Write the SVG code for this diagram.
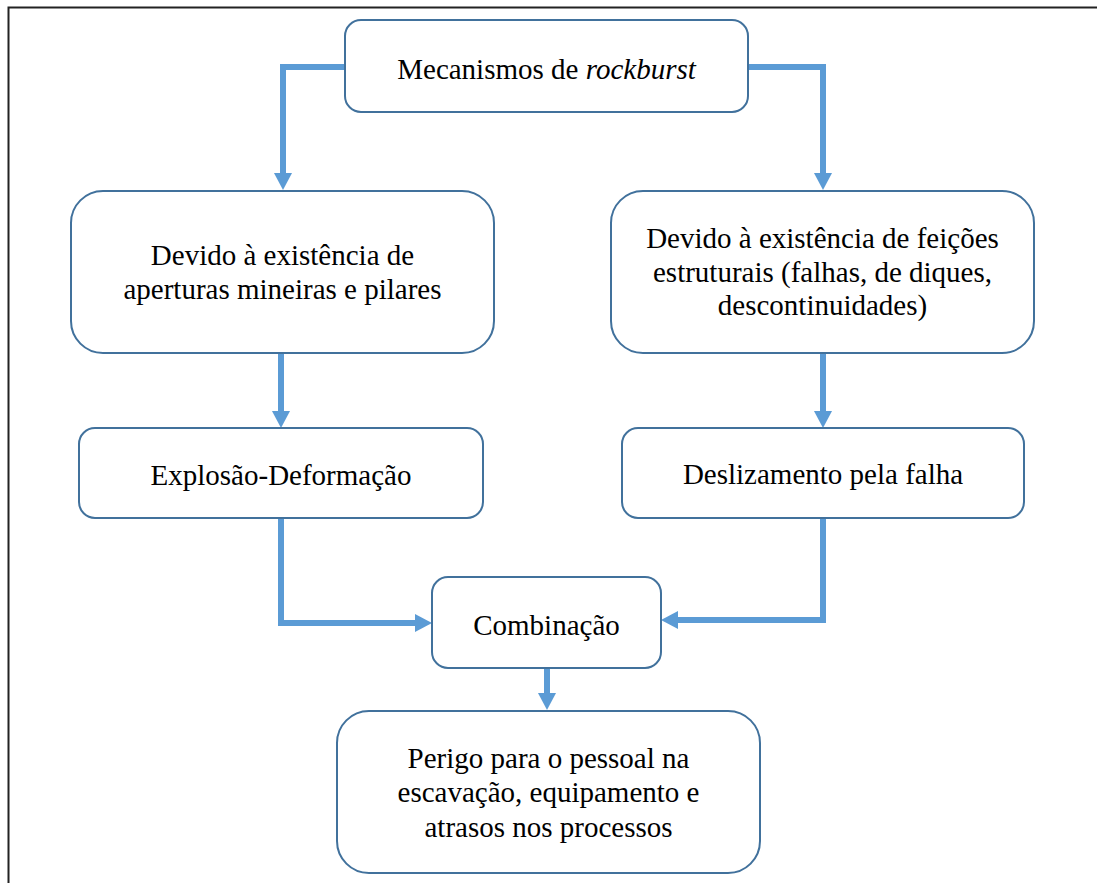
<svg xmlns="http://www.w3.org/2000/svg" width="1097" height="883" viewBox="0 0 1097 883">
<style>
.box{fill:#fff;stroke:#41719C;stroke-width:2}
.con{fill:none;stroke:#5B9BD5;stroke-width:6;marker-end:url(#ah)}
text{font-family:'Liberation Serif','Tinos','DejaVu Serif',serif;font-size:29px;fill:#000;text-anchor:middle}
</style>
<defs>
<marker id="ah" viewBox="0 0 17 18" refX="0" refY="9" markerWidth="17" markerHeight="18" markerUnits="userSpaceOnUse" orient="auto">
<path d="M0,0 L17,9 L0,18 z" fill="#5B9BD5"/>
</marker>
</defs>
<rect width="1097" height="883" fill="#fff"/>
<path d="M8.5,883 V7.5 H1097" fill="none" stroke="#222" stroke-width="2"/>
<g id="connectors">
<path class="con" d="M345,67 H283 V173"/>
<path class="con" d="M748,67 H823 V173"/>
<path class="con" d="M281,353 V411"/>
<path class="con" d="M823,353 V411"/>
<path class="con" d="M281,518 V623 H415"/>
<path class="con" d="M823,518 V620 H678"/>
<path class="con" d="M547,668 V693"/>
</g>
<g font-family="Liberation Serif, serif">
<g id="n1"><rect class="box" x="345" y="20" width="403" height="92" rx="16"/><text x="546.5" y="79">Mecanismos de <tspan font-style="italic">rockburst</tspan></text></g>
<g id="n2"><rect class="box" x="71" y="191" width="423" height="162" rx="32"/><text x="282.5" y="265">Devido à existência de</text><text x="282.5" y="299">aperturas mineiras e pilares</text></g>
<g id="n3"><rect class="box" x="611" y="191" width="423" height="162" rx="32"/><text x="822.5" y="248">Devido à existência de feições</text><text x="822.5" y="282">estruturais (falhas, de diques,</text><text x="822.5" y="315">descontinuidades)</text></g>
<g id="n4"><rect class="box" x="79" y="428" width="404" height="90" rx="16"/><text x="281" y="485">Explosão-Deformação</text></g>
<g id="n5"><rect class="box" x="622" y="428" width="402" height="90" rx="16"/><text x="823" y="484">Deslizamento pela falha</text></g>
<g id="n6"><rect class="box" x="432" y="577" width="229" height="91" rx="16"/><text x="546.5" y="635">Combinação</text></g>
<g id="n7"><rect class="box" x="337" y="711" width="423" height="162" rx="32"/><text x="548.5" y="768">Perigo para o pessoal na</text><text x="548.5" y="802">escavação, equipamento e</text><text x="548.5" y="837">atrasos nos processos</text></g>
</g>
</svg>
